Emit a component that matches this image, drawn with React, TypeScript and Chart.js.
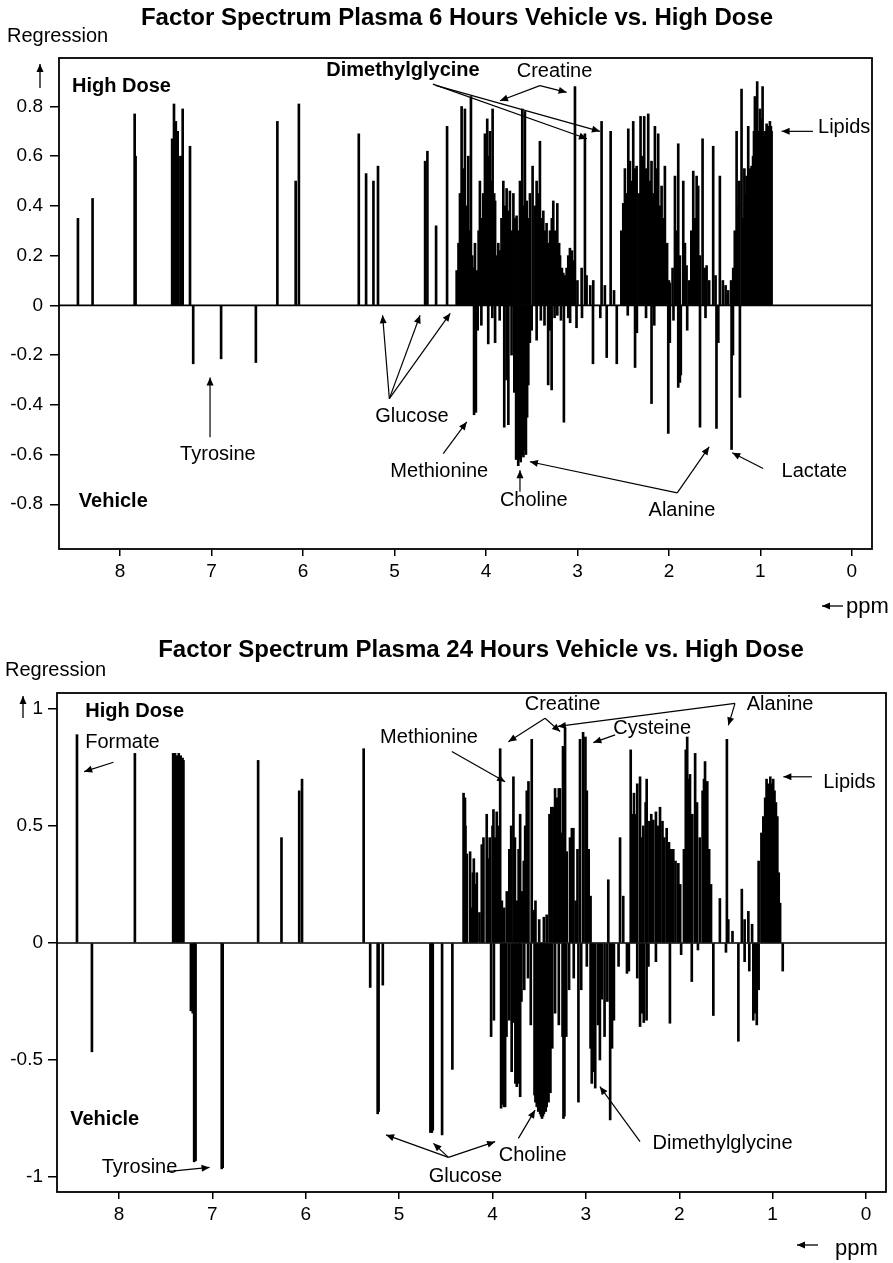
import React, { useEffect, useRef } from 'react';
import { Chart, registerables } from 'chart.js';

Chart.register(...registerables);

// ---------------- data ----------------
const ppmTicks = [8, 7, 6, 5, 4, 3, 2, 1, 0];
const regTicks6h = [-0.8, -0.6, -0.4, -0.2, 0, 0.2, 0.4, 0.6, 0.8];
const regTicks24h = [-1, -0.5, 0, 0.5, 1];

const title6h = 'Factor Spectrum Plasma 6 Hours Vehicle vs. High Dose';
const title24h = 'Factor Spectrum Plasma 24 Hours Vehicle vs. High Dose';

// [ppm, regression] — positive (High Dose) part, 6 h
const highDose6h: [number, number][] = [
  [8.46, 0.35], [8.30, 0.43], [7.84, 0.77], [7.83, 0.60], [7.43, 0.67], [7.41, 0.81], [7.39, 0.74],
  [7.37, 0.70], [7.34, 0.60], [7.325, 0.60], [7.315, 0.79], [7.235, 0.64], [6.28, 0.74], [6.08, 0.50],
  [6.045, 0.81], [5.39, 0.69], [5.31, 0.53], [5.23, 0.50], [5.18, 0.56], [4.665, 0.58], [4.64, 0.62],
  [4.545, 0.32], [4.425, 0.72],
  [4.32, 0.14], [4.30, 0.25], [4.284, 0.45], [4.266, 0.80], [4.25, 0.55], [4.23, 0.79], [4.21, 0.40],
  [4.193, 0.60], [4.18, 0.30], [4.164, 0.84], [4.15, 0.20], [4.139, 0.15], [4.12, 0.25], [4.10, 0.14],
  [4.08, 0.30], [4.066, 0.50], [4.05, 0.35], [4.03, 0.45], [4.011, 0.69], [3.995, 0.55], [3.986, 0.75],
  [3.97, 0.60], [3.956, 0.70], [3.94, 0.50], [3.927, 0.79], [3.91, 0.45], [3.90, 0.42], [3.883, 0.20],
  [3.865, 0.25], [3.847, 0.22], [3.83, 0.35], [3.81, 0.50], [3.79, 0.40], [3.774, 0.47], [3.755, 0.38],
  [3.738, 0.46], [3.72, 0.30], [3.70, 0.45], [3.68, 0.35], [3.665, 0.36], [3.645, 0.30], [3.628, 0.50],
  [3.603, 0.79], [3.59, 0.40], [3.574, 0.78], [3.555, 0.42], [3.535, 0.35], [3.519, 0.45], [3.49, 0.56],
  [3.465, 0.40], [3.446, 0.50], [3.43, 0.45], [3.41, 0.66], [3.39, 0.35], [3.373, 0.38], [3.355, 0.30],
  [3.337, 0.33], [3.32, 0.25], [3.30, 0.30], [3.28, 0.35], [3.264, 0.42], [3.245, 0.30], [3.22, 0.41],
  [3.20, 0.25], [3.19, 0.20], [3.17, 0.15], [3.155, 0.13], [3.135, 0.12], [3.118, 0.15], [3.10, 0.20],
  [3.082, 0.23], [3.06, 0.22], [3.046, 0.18], [3.027, 0.88], [3.00, 0.10], [2.954, 0.15], [2.918, 0.69],
  [2.90, 0.12], [2.86, 0.08], [2.827, 0.10], [2.736, 0.74], [2.70, 0.08], [2.637, 0.70], [2.60, 0.06],
  [2.52, 0.30], [2.499, 0.41], [2.481, 0.55], [2.46, 0.45], [2.444, 0.71], [2.426, 0.58], [2.41, 0.50],
  [2.39, 0.74], [2.37, 0.55], [2.353, 0.56], [2.33, 0.45], [2.31, 0.76], [2.29, 0.60], [2.27, 0.76],
  [2.25, 0.55], [2.226, 0.77], [2.21, 0.50], [2.19, 0.58], [2.17, 0.45], [2.153, 0.72], [2.135, 0.55],
  [2.117, 0.69], [2.10, 0.40], [2.08, 0.48], [2.06, 0.35], [2.044, 0.56], [2.02, 0.25], [2.00, 0.10],
  [1.99, 0.09], [1.96, 0.15], [1.934, 0.52], [1.915, 0.30], [1.898, 0.65], [1.88, 0.20], [1.843, 0.50],
  [1.825, 0.25], [1.807, 0.16], [1.78, 0.10], [1.755, 0.30], [1.734, 0.54], [1.715, 0.35], [1.697, 0.52],
  [1.68, 0.48], [1.66, 0.20], [1.632, 0.67], [1.61, 0.15], [1.588, 0.16], [1.56, 0.10], [1.516, 0.64],
  [1.49, 0.12], [1.443, 0.52], [1.41, 0.10], [1.38, 0.08], [1.352, 0.06], [1.32, 0.10], [1.297, 0.15],
  [1.28, 0.30], [1.26, 0.70], [1.245, 0.40], [1.23, 0.50], [1.206, 0.87], [1.19, 0.35], [1.175, 0.55],
  [1.16, 0.45], [1.151, 0.52], [1.133, 0.72], [1.12, 0.50], [1.11, 0.55], [1.096, 0.56], [1.08, 0.60],
  [1.07, 0.70], [1.06, 0.84], [1.05, 0.65], [1.035, 0.90], [1.02, 0.70], [1.005, 0.79], [0.99, 0.75],
  [0.976, 0.88], [0.965, 0.70], [0.951, 0.68], [0.94, 0.70], [0.932, 0.73], [0.92, 0.72], [0.905, 0.70],
  [0.896, 0.74], [0.885, 0.72], [0.878, 0.70],
];

// [ppm, regression] — negative (Vehicle) part, 6 h
const vehicle6h: [number, number][] = [
  [7.20, -0.235], [6.895, -0.215], [6.515, -0.23], [4.13, -0.44], [4.11, -0.43], [4.09, -0.10],
  [4.05, -0.08], [3.975, -0.155], [3.93, -0.05], [3.90, -0.15], [3.85, -0.06], [3.80, -0.49],
  [3.775, -0.30], [3.755, -0.48], [3.72, -0.20], [3.69, -0.35], [3.67, -0.62], [3.66, -0.60],
  [3.647, -0.645], [3.635, -0.62], [3.62, -0.63], [3.605, -0.60], [3.59, -0.61], [3.575, -0.58],
  [3.563, -0.60], [3.55, -0.45], [3.537, -0.32], [3.52, -0.15], [3.50, -0.10], [3.446, -0.14],
  [3.40, -0.06], [3.36, -0.08], [3.32, -0.32], [3.30, -0.10], [3.282, -0.34], [3.25, -0.05],
  [3.22, -0.04], [3.18, -0.06], [3.148, -0.47], [3.10, -0.05], [3.08, -0.07], [3.01, -0.09],
  [2.95, -0.05], [2.83, -0.235], [2.75, -0.05], [2.68, -0.21], [2.57, -0.235], [2.45, -0.04],
  [2.37, -0.25], [2.35, -0.11], [2.25, -0.05], [2.19, -0.395], [2.16, -0.08], [2.007, -0.515],
  [1.99, -0.15], [1.95, -0.06], [1.898, -0.33], [1.88, -0.31], [1.87, -0.28], [1.80, -0.10],
  [1.66, -0.49], [1.60, -0.05], [1.48, -0.495], [1.46, -0.15], [1.315, -0.58], [1.30, -0.20],
  [1.224, -0.37],
];

// [ppm, regression] — positive (High Dose) part, 24 h
const highDose24h: [number, number][] = [
  [8.45, 0.89], [7.83, 0.81], [7.42, 0.81], [7.40, 0.81], [7.38, 0.80], [7.36, 0.81], [7.34, 0.80],
  [7.32, 0.79], [7.31, 0.78], [6.51, 0.78], [6.26, 0.45], [6.07, 0.65], [6.04, 0.70], [5.38, 0.83],
  [4.31, 0.64], [4.295, 0.62], [4.29, 0.50], [4.275, 0.38], [4.24, 0.39], [4.22, 0.15], [4.21, 0.30],
  [4.20, 0.36], [4.18, 0.25], [4.168, 0.30], [4.14, 0.13], [4.115, 0.42], [4.097, 0.45], [4.062, 0.55],
  [4.045, 0.36], [4.03, 0.45], [4.00, 0.50], [3.99, 0.57], [3.975, 0.45], [3.955, 0.56], [3.94, 0.50],
  [3.918, 0.83], [3.90, 0.18], [3.875, 0.15], [3.847, 0.22], [3.82, 0.40], [3.80, 0.50], [3.776, 0.71],
  [3.76, 0.45], [3.74, 0.18], [3.72, 0.40], [3.704, 0.55], [3.685, 0.22], [3.665, 0.35], [3.65, 0.50],
  [3.633, 0.65], [3.615, 0.69], [3.58, 0.87], [3.56, 0.14], [3.54, 0.18], [3.50, 0.10], [3.45, 0.11],
  [3.42, 0.12], [3.39, 0.55], [3.37, 0.58], [3.348, 0.58], [3.33, 0.66], [3.31, 0.62], [3.29, 0.66],
  [3.277, 0.66], [3.26, 0.47], [3.245, 0.84], [3.223, 0.92], [3.205, 0.39], [3.17, 0.45], [3.15, 0.49],
  [3.134, 0.49], [3.11, 0.18], [3.09, 0.40], [3.063, 0.87], [3.03, 0.90], [3.005, 0.88], [2.99, 0.65],
  [2.97, 0.40], [2.95, 0.20], [2.76, 0.27], [2.634, 0.45], [2.60, 0.20], [2.52, 0.825], [2.50, 0.55],
  [2.485, 0.64], [2.465, 0.55], [2.45, 0.68], [2.42, 0.71], [2.40, 0.45], [2.385, 0.50], [2.36, 0.60],
  [2.349, 0.70], [2.32, 0.52], [2.30, 0.55], [2.278, 0.525], [2.25, 0.56], [2.23, 0.50], [2.206, 0.58],
  [2.18, 0.52], [2.16, 0.45], [2.135, 0.49], [2.11, 0.43], [2.09, 0.40], [2.064, 0.40], [2.04, 0.35],
  [2.01, 0.34], [1.99, 0.25], [1.95, 0.40], [1.93, 0.825], [1.915, 0.88], [1.90, 0.70], [1.885, 0.72],
  [1.86, 0.55], [1.83, 0.81], [1.81, 0.60], [1.78, 0.45], [1.75, 0.65], [1.735, 0.70], [1.724, 0.775],
  [1.70, 0.69], [1.68, 0.40], [1.66, 0.25], [1.565, 0.19], [1.49, 0.87], [1.475, 0.10], [1.43, 0.05],
  [1.33, 0.23], [1.30, 0.10], [1.26, 0.135], [1.22, 0.08], [1.15, 0.35], [1.12, 0.47], [1.10, 0.54],
  [1.08, 0.62], [1.065, 0.70], [1.05, 0.68], [1.04, 0.66], [1.025, 0.71], [1.01, 0.68], [0.994, 0.70],
  [0.98, 0.65], [0.965, 0.60], [0.95, 0.54], [0.935, 0.30], [0.92, 0.17],
];

// [ppm, regression] — negative (Vehicle) part, 24 h
const vehicle24h: [number, number][] = [
  [8.29, -0.465], [7.23, -0.29], [7.21, -0.30], [7.195, -0.935], [7.18, -0.93], [6.90, -0.965],
  [6.89, -0.96], [5.31, -0.19], [5.23, -0.73], [5.22, -0.72], [5.175, -0.18], [4.665, -0.81],
  [4.65, -0.81], [4.64, -0.80], [4.54, -0.82], [4.43, -0.54], [4.015, -0.40], [3.985, -0.33],
  [3.908, -0.706], [3.89, -0.69], [3.875, -0.70], [3.865, -0.70], [3.85, -0.40], [3.82, -0.33],
  [3.795, -0.55], [3.776, -0.34], [3.755, -0.60], [3.74, -0.614], [3.72, -0.60], [3.704, -0.657],
  [3.69, -0.25], [3.66, -0.20], [3.62, -0.15], [3.59, -0.35], [3.55, -0.65], [3.54, -0.68],
  [3.526, -0.70], [3.51, -0.72], [3.49, -0.73], [3.48, -0.74], [3.47, -0.75], [3.46, -0.74],
  [3.45, -0.73], [3.43, -0.72], [3.42, -0.70], [3.40, -0.68], [3.38, -0.64], [3.36, -0.45],
  [3.33, -0.30], [3.29, -0.35], [3.25, -0.40], [3.24, -0.75], [3.23, -0.74], [3.21, -0.40],
  [3.18, -0.20], [3.13, -0.15], [3.08, -0.68], [3.05, -0.20], [2.99, -0.10], [2.95, -0.45],
  [2.937, -0.60], [2.92, -0.55], [2.90, -0.62], [2.87, -0.35], [2.85, -0.50], [2.83, -0.24],
  [2.80, -0.40], [2.77, -0.25], [2.74, -0.756], [2.72, -0.45], [2.70, -0.33], [2.65, -0.10],
  [2.56, -0.13], [2.54, -0.12], [2.45, -0.15], [2.42, -0.357], [2.40, -0.30], [2.38, -0.34],
  [2.35, -0.33], [2.33, -0.10], [2.25, -0.08], [2.10, -0.343], [1.98, -0.05], [1.866, -0.165],
  [1.80, -0.03], [1.635, -0.31], [1.50, -0.04], [1.367, -0.42], [1.30, -0.08], [1.25, -0.12],
  [1.207, -0.33], [1.19, -0.30], [1.17, -0.35], [1.15, -0.20], [0.892, -0.12],
];

// ---------------- annotations (data coordinates: ppm, regression) ----------------
type Note = { text: string; ppm: number; val: number; bold?: boolean; align?: CanvasTextAlign };
type Arrow = { from: [number, number]; to: [number, number] };

const notes6h: Note[] = [
  { text: 'High Dose', ppm: 8.525, val: 0.88, bold: true, align: 'left' },
  { text: 'Vehicle', ppm: 8.45, val: -0.787, bold: true, align: 'left' },
  { text: 'Dimethylglycine', ppm: 4.907, val: 0.944, bold: true },
  { text: 'Creatine', ppm: 3.25, val: 0.94 },
  { text: 'Lipids', ppm: 0.37, val: 0.716, align: 'left' },
  { text: 'Glucose', ppm: 4.81, val: -0.445 },
  { text: 'Tyrosine', ppm: 6.93, val: -0.6 },
  { text: 'Methionine', ppm: 4.51, val: -0.67 },
  { text: 'Choline', ppm: 3.477, val: -0.783 },
  { text: 'Alanine', ppm: 1.858, val: -0.826 },
  { text: 'Lactate', ppm: 0.768, val: -0.67, align: 'left' },
];
const arrows6h: Arrow[] = [
  { from: [4.58, 0.89], to: [2.896, 0.67] },
  { from: [4.55, 0.885], to: [2.754, 0.7] },
  { from: [3.41, 0.884], to: [3.847, 0.823] },
  { from: [3.41, 0.884], to: [3.118, 0.857] },
  { from: [0.426, 0.7], to: [0.768, 0.7] },
  { from: [5.056, -0.375], to: [5.13, -0.04] },
  { from: [5.056, -0.375], to: [4.72, -0.04] },
  { from: [5.056, -0.375], to: [4.39, -0.032] },
  { from: [7.016, -0.53], to: [7.016, -0.29] },
  { from: [4.467, -0.596], to: [4.21, -0.469] },
  { from: [3.628, -0.75], to: [3.628, -0.663] },
  { from: [1.909, -0.754], to: [3.52, -0.629] },
  { from: [1.909, -0.754], to: [1.56, -0.569] },
  { from: [0.97, -0.656], to: [1.308, -0.593] },
];

const notes24h: Note[] = [
  { text: 'High Dose', ppm: 8.362, val: 0.988, bold: true, align: 'left' },
  { text: 'Formate', ppm: 8.362, val: 0.856, align: 'left' },
  { text: 'Methionine', ppm: 4.68, val: 0.88 },
  { text: 'Creatine', ppm: 3.25, val: 1.017 },
  { text: 'Alanine', ppm: 1.277, val: 1.017, align: 'left' },
  { text: 'Cysteine', ppm: 2.29, val: 0.917 },
  { text: 'Lipids', ppm: 0.457, val: 0.685, align: 'left' },
  { text: 'Vehicle', ppm: 8.522, val: -0.754, bold: true, align: 'left' },
  { text: 'Tyrosine', ppm: 7.78, val: -0.959 },
  { text: 'Glucose', ppm: 4.29, val: -0.999 },
  { text: 'Choline', ppm: 3.57, val: -0.91 },
  { text: 'Dimethylglycine', ppm: 1.536, val: -0.856 },
];
const arrows24h: Arrow[] = [
  { from: [8.059, 0.772], to: [8.373, 0.732] },
  { from: [4.436, 0.818], to: [3.865, 0.689] },
  { from: [3.437, 0.96], to: [3.83, 0.86] },
  { from: [3.437, 0.96], to: [3.276, 0.903] },
  { from: [1.403, 1.024], to: [3.3, 0.925] },
  { from: [1.403, 1.024], to: [1.474, 0.93] },
  { from: [2.687, 0.889], to: [2.92, 0.856] },
  { from: [0.58, 0.71], to: [0.885, 0.71] },
  { from: [7.487, -0.977], to: [7.03, -0.959] },
  { from: [4.472, -0.916], to: [5.14, -0.82] },
  { from: [4.472, -0.916], to: [4.633, -0.856] },
  { from: [4.472, -0.916], to: [3.972, -0.849] },
  { from: [3.723, -0.835], to: [3.544, -0.714] },
  { from: [2.42, -0.849], to: [2.85, -0.614] },
];

// ---------------- layout / style ----------------
const FONT = '"Liberation Sans", Arial, Helvetica, sans-serif';

interface PanelSpec {
  key: string;
  title: string;
  titleX: number;
  titleBase: number;
  top: number;
  width: number;
  height: number;
  area: { left: number; right: number; top: number; bottom: number };
  xMin: number;
  xMax: number;
  yMin: number;
  yMax: number;
  yTicks: number[];
  highDose: [number, number][];
  vehicle: [number, number][];
  notes: Note[];
  arrows: Arrow[];
  regX: number;
  regBase: number;
  upArrow: { x: number; y1: number; y2: number };
  ppmArrow: { x1: number; x2: number; y: number };
  ppmTextX: number;
  ppmTextY: number;
  yPad: number;
  xPad: number;
}

const panels: PanelSpec[] = [
  {
    key: 'p6', title: title6h, titleX: 457, titleBase: 25, top: 0, width: 893, height: 630,
    area: { left: 59, right: 872, top: 58, bottom: 549 },
    xMin: -0.22, xMax: 8.667, yMin: -0.98, yMax: 0.995, yTicks: regTicks6h,
    highDose: highDose6h, vehicle: vehicle6h, notes: notes6h, arrows: arrows6h,
    regX: 7, regBase: 42, upArrow: { x: 40, y1: 88, y2: 64 },
    ppmArrow: { x1: 843, x2: 822, y: 606 }, ppmTextX: 846, ppmTextY: 607, yPad: 7, xPad: 4,
  },
  {
    key: 'p24', title: title24h, titleX: 481, titleBase: 27, top: 630, width: 893, height: 633,
    area: { left: 57, right: 886, top: 63, bottom: 562 },
    xMin: -0.214, xMax: 8.664, yMin: -1.064, yMax: 1.068, yTicks: regTicks24h,
    highDose: highDose24h, vehicle: vehicle24h, notes: notes24h, arrows: arrows24h,
    regX: 5, regBase: 46, upArrow: { x: 23, y1: 88, y2: 66 },
    ppmArrow: { x1: 818, x2: 797, y: 615 }, ppmTextX: 835, ppmTextY: 619, yPad: 5, xPad: 4,
  },
];

function drawArrow(ctx: CanvasRenderingContext2D, x1: number, y1: number, x2: number, y2: number) {
  ctx.beginPath();
  ctx.moveTo(x1, y1);
  ctx.lineTo(x2, y2);
  ctx.stroke();
  const a = Math.atan2(y2 - y1, x2 - x1);
  const L = 8;
  const W = 3.5;
  ctx.beginPath();
  ctx.moveTo(x2, y2);
  ctx.lineTo(x2 - L * Math.cos(a) + W * Math.sin(a), y2 - L * Math.sin(a) - W * Math.cos(a));
  ctx.lineTo(x2 - L * Math.cos(a) - W * Math.sin(a), y2 - L * Math.sin(a) + W * Math.cos(a));
  ctx.closePath();
  ctx.fill();
}

function fmtTick(v: number): string {
  const r = Math.round(v * 10) / 10;
  return String(r === 0 ? 0 : r);
}

function Panel({ spec }: { spec: PanelSpec }) {
  const ref = useRef<HTMLCanvasElement>(null);

  useEffect(() => {
    const canvas = ref.current;
    if (!canvas) return;
    const a = spec.area;

    const overlay = {
      id: 'overlay_' + spec.key,
      afterDraw(chart: any) {
        const ctx: CanvasRenderingContext2D = chart.ctx;
        const xs = chart.scales.x;
        const ys = chart.scales.y;
        const ca = chart.chartArea;
        ctx.save();
        ctx.strokeStyle = '#000';
        ctx.fillStyle = '#000';

        // zero line
        ctx.lineWidth = 1.6;
        const y0 = ys.getPixelForValue(0);
        ctx.beginPath();
        ctx.moveTo(ca.left, y0);
        ctx.lineTo(ca.right, y0);
        ctx.stroke();

        // frame
        ctx.lineWidth = 1.8;
        ctx.strokeRect(ca.left, ca.top, ca.right - ca.left, ca.bottom - ca.top);

        // title
        ctx.font = `bold 24px ${FONT}`;
        ctx.textAlign = 'center';
        ctx.textBaseline = 'alphabetic';
        ctx.fillText(spec.title, spec.titleX, spec.titleBase);

        // y axis caption
        ctx.font = `20px ${FONT}`;
        ctx.textAlign = 'left';
        ctx.fillText('Regression', spec.regX, spec.regBase);
        ctx.lineWidth = 1.3;
        drawArrow(ctx, spec.upArrow.x, spec.upArrow.y1, spec.upArrow.x, spec.upArrow.y2);

        // x axis caption
        drawArrow(ctx, spec.ppmArrow.x1, spec.ppmArrow.y, spec.ppmArrow.x2, spec.ppmArrow.y);
        ctx.font = `22px ${FONT}`;
        ctx.textBaseline = 'middle';
        ctx.fillText('ppm', spec.ppmTextX, spec.ppmTextY);

        // annotation arrows
        ctx.lineWidth = 1.2;
        for (const ar of spec.arrows) {
          drawArrow(
            ctx,
            xs.getPixelForValue(ar.from[0]), ys.getPixelForValue(ar.from[1]),
            xs.getPixelForValue(ar.to[0]), ys.getPixelForValue(ar.to[1]),
          );
        }

        // annotation labels
        for (const n of spec.notes) {
          ctx.font = `${n.bold ? 'bold ' : ''}20px ${FONT}`;
          ctx.textAlign = n.align ?? 'center';
          ctx.textBaseline = 'middle';
          ctx.fillText(n.text, xs.getPixelForValue(n.ppm), ys.getPixelForValue(n.val));
        }
        ctx.restore();
      },
    };

    const tickFont = { family: FONT, size: 19 };

    const chart = new Chart(canvas, {
      type: 'bar',
      data: {
        datasets: [
          {
            label: 'High Dose',
            data: spec.highDose.map(([x, y]) => ({ x, y })),
            backgroundColor: '#000',
            borderWidth: 0,
            barThickness: 2,
            grouped: false,
          } as any,
          {
            label: 'Vehicle',
            data: spec.vehicle.map(([x, y]) => ({ x, y })),
            backgroundColor: '#000',
            borderWidth: 0,
            barThickness: 2,
            grouped: false,
          } as any,
        ],
      },
      options: {
        responsive: false,
        maintainAspectRatio: false,
        animation: false,
        devicePixelRatio: 1,
        layout: { padding: { top: a.top, right: spec.width - a.right, left: 0, bottom: 0 } },
        plugins: {
          legend: { display: false },
          title: { display: false },
          tooltip: { enabled: false },
        },
        scales: {
          x: {
            type: 'linear',
            reverse: true,
            min: spec.xMin,
            max: spec.xMax,
            offset: false,
            afterFit: (s: any) => { s.height = spec.height - a.bottom; },
            afterBuildTicks: (s: any) => { s.ticks = ppmTicks.map((v) => ({ value: v })); },
            ticks: {
              color: '#000',
              font: tickFont,
              padding: spec.xPad,
              maxRotation: 0,
              autoSkip: false,
              callback: (v: any) => fmtTick(Number(v)),
            },
            grid: {
              display: true,
              drawOnChartArea: false,
              drawTicks: true,
              tickLength: 7,
              color: '#000',
              lineWidth: 1.5,
              offset: false,
            },
            border: { display: false },
          } as any,
          y: {
            type: 'linear',
            min: spec.yMin,
            max: spec.yMax,
            afterFit: (s: any) => { s.width = a.left; },
            afterBuildTicks: (s: any) => { s.ticks = spec.yTicks.map((v) => ({ value: v })); },
            ticks: {
              color: '#000',
              font: tickFont,
              padding: spec.yPad,
              autoSkip: false,
              callback: (v: any) => fmtTick(Number(v)),
            },
            grid: {
              display: true,
              drawOnChartArea: false,
              drawTicks: true,
              tickLength: 9,
              color: '#000',
              lineWidth: 1.5,
            },
            border: { display: false },
          } as any,
        },
      },
      plugins: [overlay],
    });

    return () => chart.destroy();
  }, [spec]);

  return (
    <canvas
      ref={ref}
      width={spec.width}
      height={spec.height}
      style={{ position: 'absolute', left: 0, top: spec.top, width: spec.width, height: spec.height, display: 'block' }}
    />
  );
}

export default function App() {
  return (
    <div style={{ position: 'absolute', left: 0, top: 0, width: 893, height: 1263, background: '#fff', overflow: 'hidden' }}>
      {panels.map((p) => (
        <Panel key={p.key} spec={p} />
      ))}
    </div>
  );
}
